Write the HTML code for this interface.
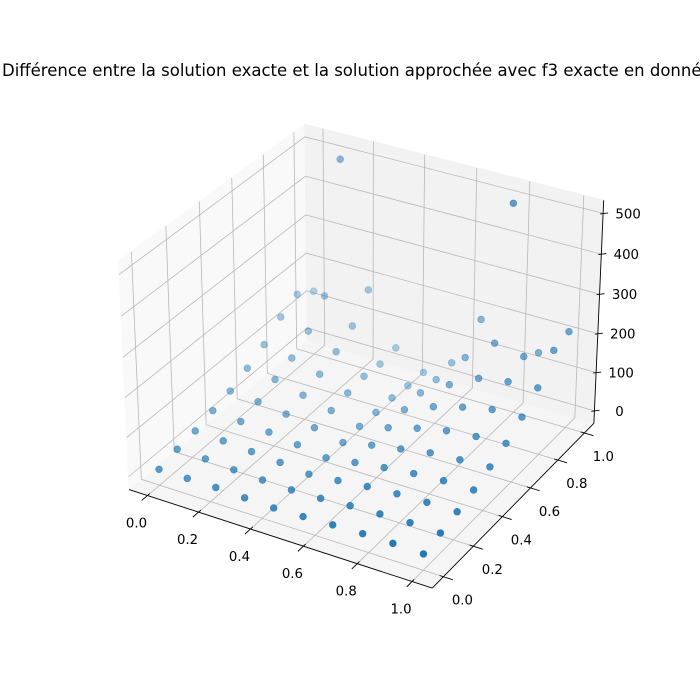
<!DOCTYPE html>
<html>
<head>
<meta charset="utf-8">
<style>
  html,body{margin:0;padding:0;background:#fff;}
  #wrap{position:relative;width:700px;height:700px;overflow:hidden;background:#fff;}
  svg{position:absolute;left:0;top:0;}
  text{font-family:"DejaVu Sans","Liberation Sans",sans-serif;}
</style>
</head>
<body>
<div id="wrap">
<svg id="chart" width="700" height="700" viewBox="0 0 700 700">
  <text x="2" y="76" font-size="16.5" fill="#000" style="white-space:pre">Différence entre la solution exacte et la solution approchée avec f3 exacte en donnée</text>
  <g id="panes"></g>
  <g id="grid"></g>
  <g id="axes"></g>
  <g id="points"></g>
</svg>
</div>
<script>
// ---- data ----
const xValues = [0, 1/9, 2/9, 3/9, 4/9, 5/9, 6/9, 7/9, 8/9, 1];
const yValues = [0, 1/9, 2/9, 3/9, 4/9, 5/9, 6/9, 7/9, 8/9, 1];
// zRows[j][i] : value at x=xValues[i], y=yValues[j]
const zRow0 = [8, 8, 8, 5, 3, 5, 8, 10, 10, 8];
const zRow1 = [20, 18, 13, 10, 8, 10, 15, 18, 20, 18];
const zRow2 = [28, 25, 20, 15, 8, 15, 23, 28, 30, 30];
const zRow3 = [42, 36, 31, 21, 10, 21, 31, 39, 44, 44];
const zRow4 = [55, 49, 39, 26, 10, 26, 39, 52, 57, 62];
const zRow5 = [77, 69, 50, 32, 13, 32, 53, 69, 77, 82];
const zRow6 = [102, 88, 67, 40, 11, 40, 70, 91, 107, 110];
const zRow7 = [138, 122, 89, 46, 11, 46, 89, 127, 140, 146];
const zRow8 = [162, 178, 120, 41, 5, 43, 122, 180, 167, 204];
const zRow9 = [135, 494, 179, 47, 3, 50, 184, 496, 140, 215];
const zRows = [zRow0, zRow1, zRow2, zRow3, zRow4, zRow5, zRow6, zRow7, zRow8, zRow9];
const xTicks = [0, 0.2, 0.4, 0.6, 0.8, 1.0];
const xTickLabels = ["0.0", "0.2", "0.4", "0.6", "0.8", "1.0"];
const yTicks = [0, 0.2, 0.4, 0.6, 0.8, 1.0];
const yTickLabels = ["0.0", "0.2", "0.4", "0.6", "0.8", "1.0"];
const zTicks = [0, 100, 200, 300, 400, 500];
const zTickLabels = ["0", "100", "200", "300", "400", "500"];

// ---- limits (matplotlib-like autoscale) ----
function lims(arr){
  const mn = Math.min(...arr), mx = Math.max(...arr), r = mx - mn;
  const m = 0.05 + 1.1/48;
  return [mn - m*r, mx + m*r];
}
const allZ = [].concat(...zRows);
const [xlo, xhi] = lims(xValues);
const [ylo, yhi] = lims(yValues);
const [zlo, zhi] = lims(allZ);

// ---- projection ----
const s = 1.8294640721620434/Math.sqrt(41);
const box = [4*s, 4*s, 3*s];
const R = [box[0]/2, box[1]/2, box[2]/2];
const elev = 30*Math.PI/180, azim = -60*Math.PI/180;
const w = [Math.cos(elev)*Math.cos(azim), Math.cos(elev)*Math.sin(azim), Math.sin(elev)];
let u = [-w[1], w[0], 0]; { const n = Math.hypot(u[0],u[1]); u = [u[0]/n, u[1]/n, 0]; }
const v = [w[1]*u[2]-w[2]*u[1], w[2]*u[0]-w[0]*u[2], w[0]*u[1]-w[1]*u[0]];
const K = 3040, CX = 365.6, CY = 345.4, DIST = 10;
function dvec(x,y,z){
  return [(x-xlo)/(xhi-xlo)*box[0]-R[0], (y-ylo)/(yhi-ylo)*box[1]-R[1], (z-zlo)/(zhi-zlo)*box[2]-R[2]];
}
const dot = (a,b)=>a[0]*b[0]+a[1]*b[1]+a[2]*b[2];
function P(x,y,z){
  const d = dvec(x,y,z);
  const den = DIST - dot(w,d);
  return [CX + K*dot(u,d)/den, CY - K*dot(v,d)/den, dot(w,d)];
}

const NS = "http://www.w3.org/2000/svg";
function mk(tag, attrs, parent){
  const el = document.createElementNS(NS, tag);
  for (const k in attrs) el.setAttribute(k, attrs[k]);
  parent.appendChild(el);
  return el;
}
const panesG = document.getElementById('panes');
const gridG = document.getElementById('grid');
const axesG = document.getElementById('axes');
const ptsG = document.getElementById('points');
const poly = pts => pts.map(p=>p[0].toFixed(2)+','+p[1].toFixed(2)).join(' ');

// panes
let pe;
pe = mk('polygon', {points: poly([P(xlo,ylo,zlo),P(xhi,ylo,zlo),P(xhi,yhi,zlo),P(xlo,yhi,zlo)]), fill:'#f5f5f5', stroke:'#f5f5f5'}, panesG);


pe = mk('polygon', {points: poly([P(xlo,ylo,zlo),P(xlo,yhi,zlo),P(xlo,yhi,zhi),P(xlo,ylo,zhi)]), fill:'#f9f9f9', stroke:'#f9f9f9'}, panesG);


pe = mk('polygon', {points: poly([P(xlo,yhi,zlo),P(xhi,yhi,zlo),P(xhi,yhi,zhi),P(xlo,yhi,zhi)]), fill:'#f2f2f2', stroke:'#f2f2f2'}, panesG);



// gridlines
const gstyle = {fill:'none', stroke:'#b8b8b8', 'stroke-width':0.8};
xTicks.forEach(t=>{
  const el = mk('polyline', Object.assign({points: poly([P(t,ylo,zlo),P(t,yhi,zlo),P(t,yhi,zhi)])}, gstyle), gridG);
  
  
});
yTicks.forEach(t=>{
  const el = mk('polyline', Object.assign({points: poly([P(xhi,t,zlo),P(xlo,t,zlo),P(xlo,t,zhi)])}, gstyle), gridG);
  
  
});
zTicks.forEach(t=>{
  const el = mk('polyline', Object.assign({points: poly([P(xlo,ylo,t),P(xlo,yhi,t),P(xhi,yhi,t)])}, gstyle), gridG);
  
  
});

// axis lines
const astyle = {stroke:'#000', 'stroke-width':0.9, fill:'none'};
let al;
al = mk('line', Object.assign({x1:P(xlo,ylo,zlo)[0], y1:P(xlo,ylo,zlo)[1], x2:P(xhi,ylo,zlo)[0], y2:P(xhi,ylo,zlo)[1]}, astyle), axesG);


al = mk('line', Object.assign({x1:P(xhi,ylo,zlo)[0], y1:P(xhi,ylo,zlo)[1], x2:P(xhi,yhi,zlo)[0], y2:P(xhi,yhi,zlo)[1]}, astyle), axesG);


al = mk('line', Object.assign({x1:P(xhi,yhi,zlo)[0], y1:P(xhi,yhi,zlo)[1], x2:P(xhi,yhi,zhi)[0], y2:P(xhi,yhi,zhi)[1]}, astyle), axesG);



// ticks + labels
const yr = yhi-ylo, xr = xhi-xlo;
xTicks.forEach((t,k)=>{
  const a = P(t, ylo+0.012*yr, zlo), b = P(t, ylo-0.03*yr, zlo), e = P(t, ylo, zlo);
  const tk = mk('line', {x1:a[0], y1:a[1], x2:b[0], y2:b[1], stroke:'#000', 'stroke-width':0.9}, axesG);
  
  
  const tx = mk('text', {x:e[0]-11, y:e[1]+28, 'font-size':13.3, 'text-anchor':'middle', 'dominant-baseline':'middle', fill:'#000'}, axesG);
  tx.textContent = xTickLabels[k];
  
  
});
yTicks.forEach((t,k)=>{
  const a = P(xhi-0.012*xr, t, zlo), b = P(xhi+0.03*xr, t, zlo), e = P(xhi, t, zlo);
  const tk = mk('line', {x1:a[0], y1:a[1], x2:b[0], y2:b[1], stroke:'#000', 'stroke-width':0.9}, axesG);
  
  
  const tx = mk('text', {x:e[0]+19, y:e[1]+24, 'font-size':13.3, 'text-anchor':'middle', 'dominant-baseline':'middle', fill:'#000'}, axesG);
  tx.textContent = yTickLabels[k];
  
  
});
zTicks.forEach((t,k)=>{
  const e = P(xhi, yhi, t);
  const tk = mk('line', {x1:e[0]-3, y1:e[1]+0.5, x2:e[0]+5, y2:e[1]-0.5, stroke:'#000', 'stroke-width':0.9}, axesG);
  
  
  const tx = mk('text', {x:e[0]+25, y:e[1]+1, 'font-size':13.3, 'text-anchor':'middle', 'dominant-baseline':'middle', fill:'#000'}, axesG);
  tx.textContent = zTickLabels[k];
  
  
});

// points
const pts = [];
zRows.forEach((row,j)=>row.forEach((z,i)=>{ pts.push(P(xValues[i], yValues[j], z)); }));
const depths = pts.map(p=>p[2]);
const dmin = Math.min(...depths), dmax = Math.max(...depths);
pts.sort((a,b)=>a[2]-b[2]);
pts.forEach(p=>{
  const alpha = 0.3 + 0.7*(p[2]-dmin)/((dmax-dmin)||1);
  const c = mk('circle', {cx:p[0].toFixed(2), cy:p[1].toFixed(2), r:3.4, fill:'#1f77b4', 'fill-opacity':alpha.toFixed(3), stroke:'#1f77b4', 'stroke-opacity':alpha.toFixed(3), 'stroke-width':0.6}, ptsG);
  
  
});
</script>
</body>
</html>
